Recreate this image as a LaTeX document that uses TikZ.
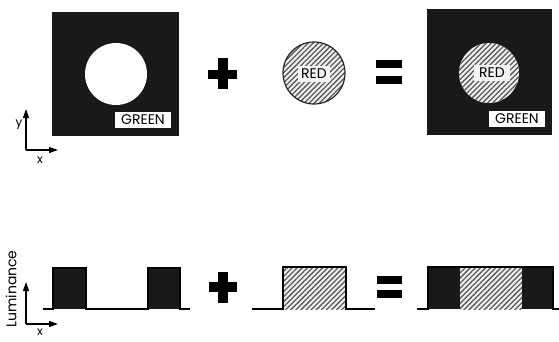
\documentclass[tikz,border=0pt]{standalone}
\usepackage{fontspec}
\setmainfont{Poppins}
\usetikzlibrary{patterns.meta,arrows.meta}
\begin{document}
\begin{tikzpicture}[x=1pt,y=-1pt,
  darkfill/.style={fill=black!90},
  hatch/.style={pattern={Lines[angle=45,distance=3.6pt,line width=1.3pt]},pattern color=black!65},
  lightbg/.style={fill=black!6},
  labelbox/.style={fill=white,inner sep=0.5pt,font=\fontsize{14}{14}\selectfont,text=black},
  sym/.style={fill=black,draw=none},
  axis/.style={line width=1.1pt,-{Triangle[length=9pt,width=6pt]}},
  axlabel/.style={font=\fontsize{12}{12}\selectfont,inner sep=0pt},
  prof/.style={line width=1.1pt,line join=miter}]
\useasboundingbox (0,0) rectangle (559,341);
% ---------- top row ----------
\coordinate (o1) at (26,150);
\coordinate (y1) at (26,109);
\coordinate (x1) at (58,150);
\draw[axis] (o1) -- (y1);
\draw[axis] (o1) -- (x1);
\node[axlabel] (ylab1) at (19,125) {y};
\node[axlabel] (xlab1) at (40,160) {x};
% green square with hole
\fill[darkfill] (52,12) rectangle (179,136);
\node[circle,fill=white,minimum size=62pt,inner sep=0pt] (hole) at (116,74) {};
\node[labelbox,minimum width=56pt,minimum height=16pt] (g1) at (143,120) {GREEN};
% plus
\fill[sym] (208,70) rectangle (237,79);
\fill[sym] (218,58) rectangle (228,89);
% red disc
\fill[lightbg] (314,73) circle (31);
\fill[hatch] (314,73) circle (31);
\draw[line width=1.2pt,black!85] (314,73) circle (31);
\node[labelbox,fill=white!95!black,minimum width=32pt,minimum height=16pt] (r1) at (314,74) {RED};
% equals
\fill[sym] (376,60) rectangle (402,68);
\fill[sym] (376,76) rectangle (402,84);
% result square
\fill[darkfill] (427,9) rectangle (552,135);
\fill[lightbg] (489,73) circle (30);
\fill[hatch] (489,73) circle (30);
\node[labelbox,fill=white!95!black,minimum width=36pt,minimum height=16pt] (r2) at (492,73) {RED};
\node[labelbox,minimum width=56pt,minimum height=16pt] (g2) at (517,119) {GREEN};
% ---------- bottom row ----------
\coordinate (o2) at (26,324);
\coordinate (y2) at (26,282);
\coordinate (x2) at (58,324);
\draw[axis] (o2) -- (y2);
\draw[axis] (o2) -- (x2);
\node[axlabel,font=\fontsize{14}{14}\selectfont,rotate=90,anchor=west] (lum) at (11,328) {Luminance};
\node[axlabel] (xlab2) at (40,332) {x};
% green profile
\fill[darkfill] (53,268) rectangle (86,309);
\fill[darkfill] (148,268) rectangle (180,309);
\draw[prof] (43,309) -- (53,309) -- (53,268) -- (86,268) -- (86,309) -- (148,309) -- (148,268) -- (180,268) -- (180,309) -- (190,309);
% plus
\fill[sym] (209,282) rectangle (237,292);
\fill[sym] (218,272) rectangle (228,303);
% red profile
\fill[lightbg] (283,267) rectangle (346,309);
\fill[hatch] (283,267) rectangle (346,309);
\draw[prof] (252,309) -- (283,309) -- (283,267) -- (346,267) -- (346,309) -- (375,309);
% equals
\fill[sym] (377,276) rectangle (402,284);
\fill[sym] (377,290) rectangle (402,298);
% combined profile
\fill[darkfill] (428,267) rectangle (460,309);
\fill[lightbg] (460,267) rectangle (522,309);
\fill[hatch] (460,267) rectangle (522,309);
\fill[darkfill] (522,267) rectangle (553,309);
\draw[prof] (417,309) -- (428,309) -- (428,267) -- (553,267) -- (553,309) -- (559,309);
\end{tikzpicture}
\end{document}
